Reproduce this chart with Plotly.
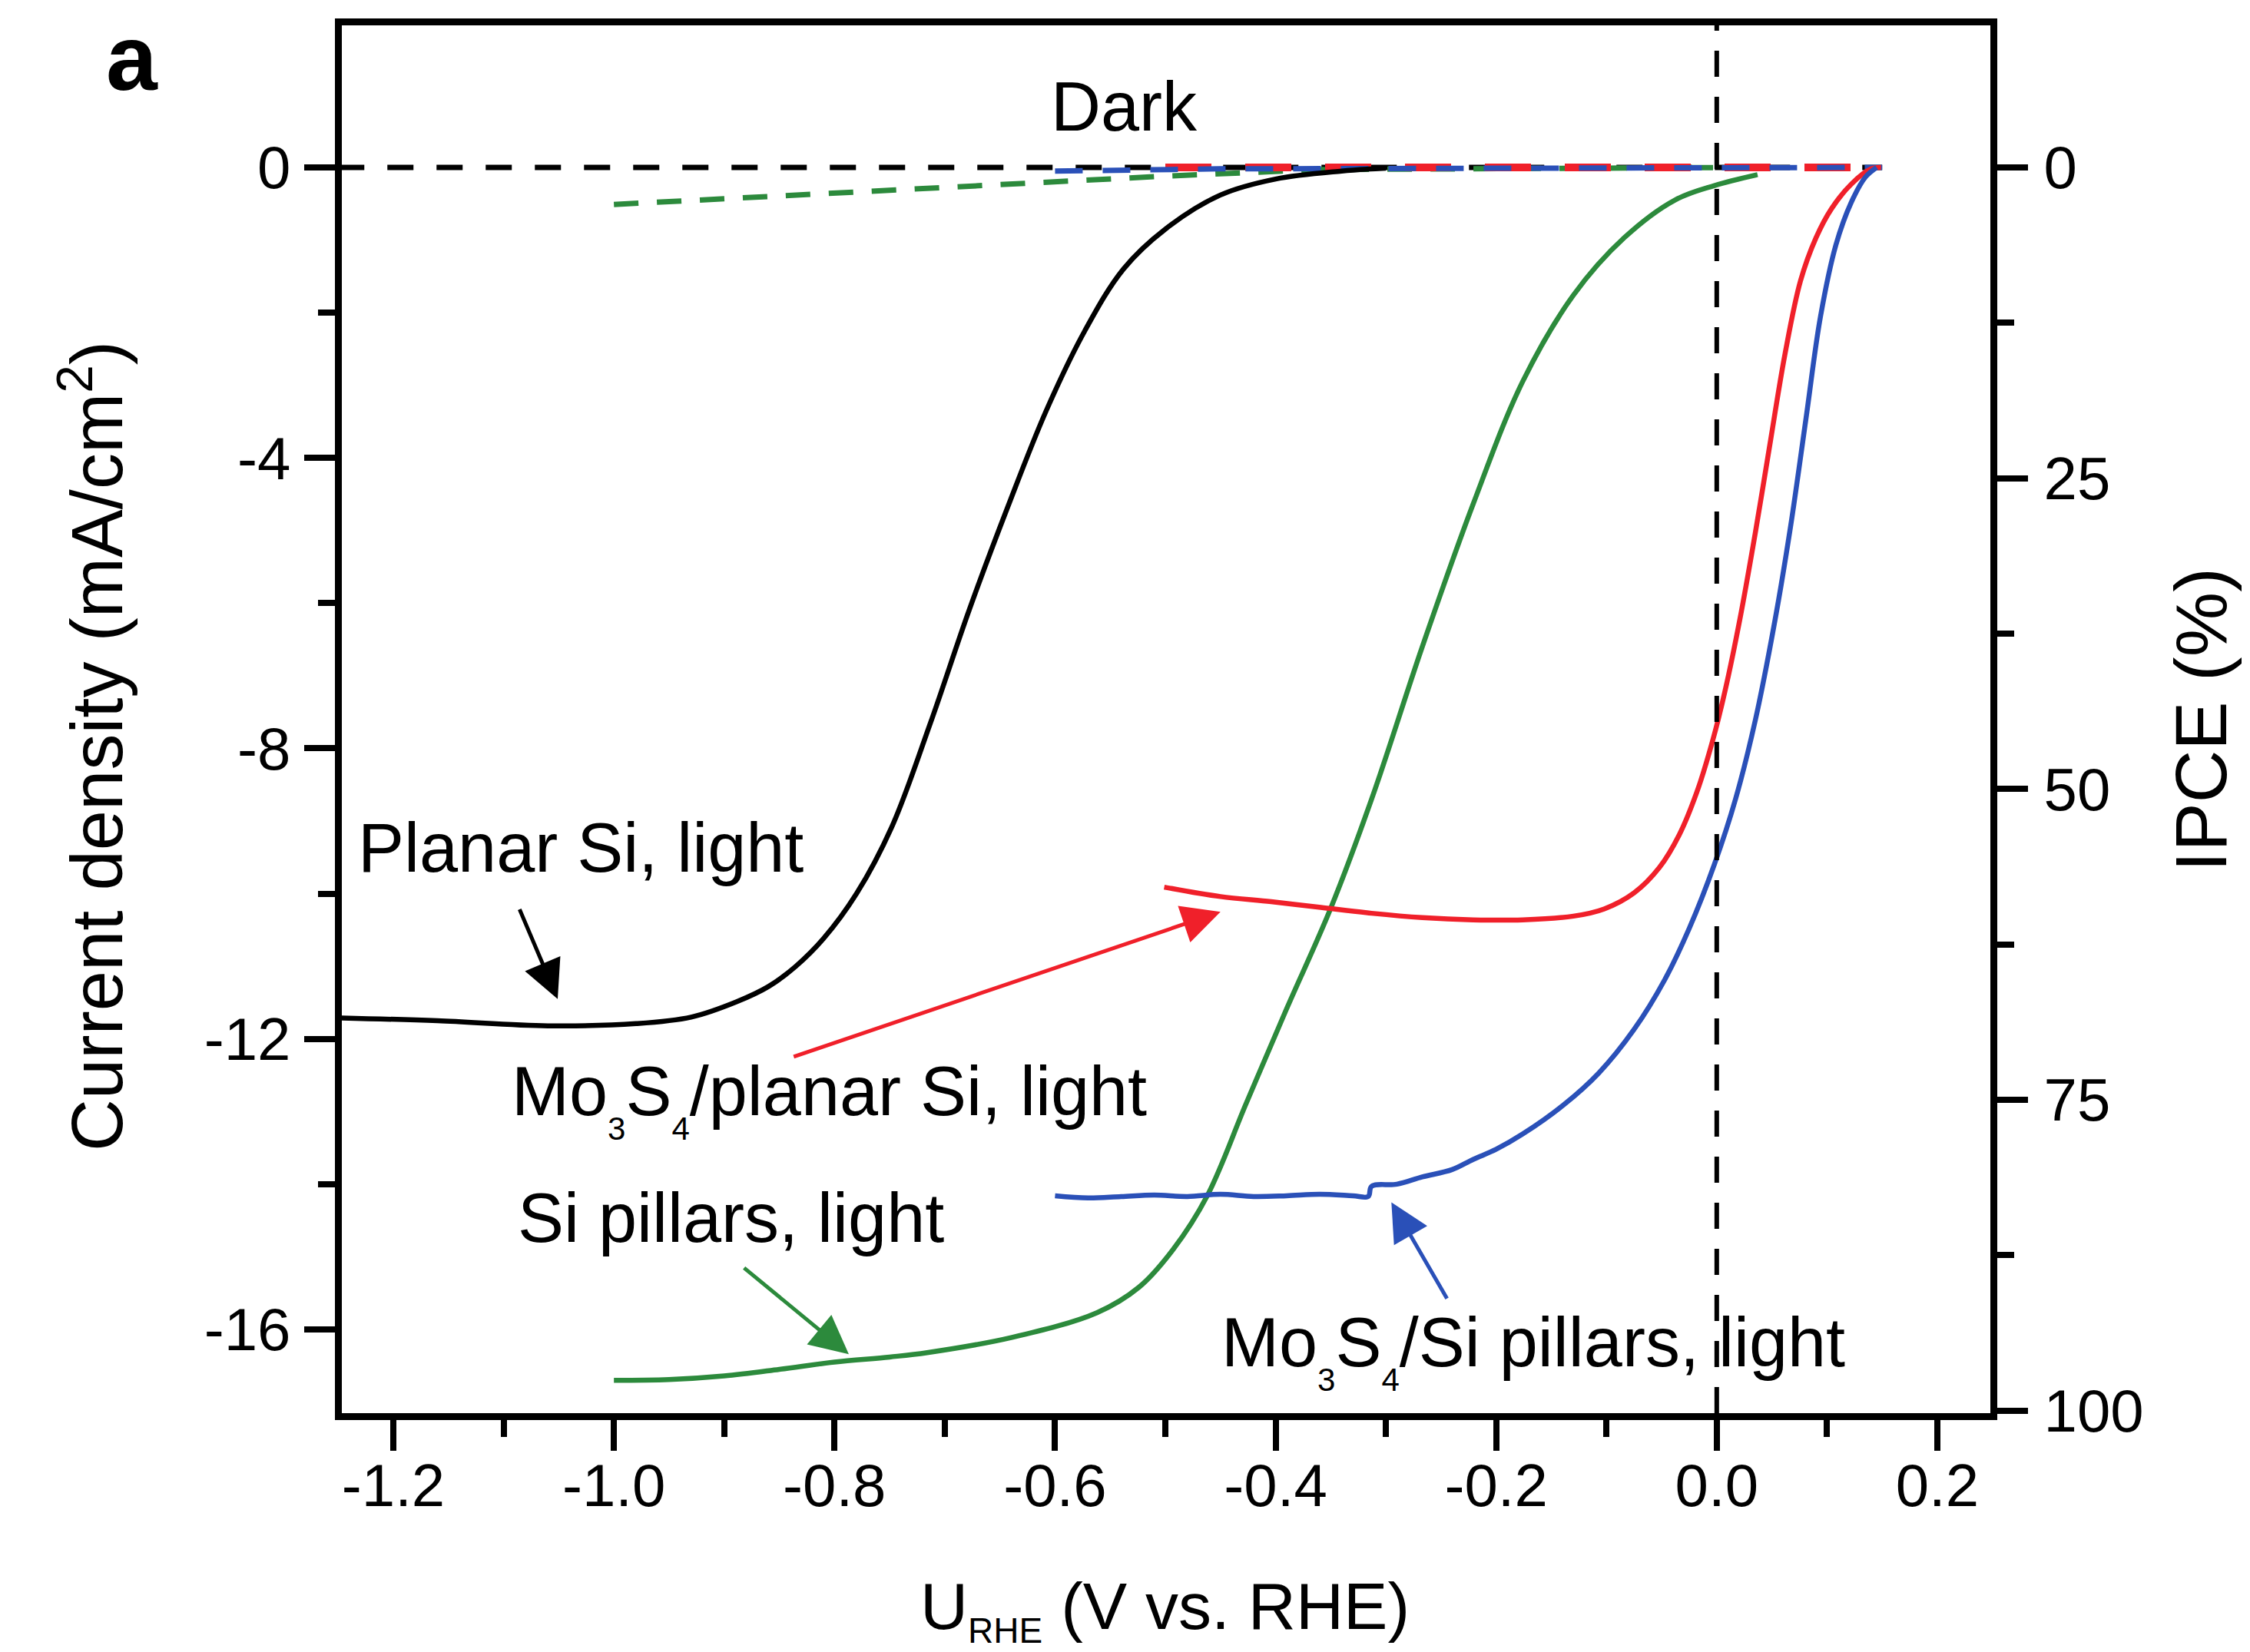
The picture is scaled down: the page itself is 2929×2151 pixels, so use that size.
import plotly.graph_objects as go

# ---------------- data ----------------
# Planar Si, light (black solid)
v_planar_light = [-1.25, -1.16, -1.06, -0.98, -0.93, -0.889, -0.86, -0.835, -0.81, -0.78, -0.748,
                  -0.713, -0.678, -0.643, -0.608, -0.573, -0.538, -0.50, -0.45, -0.40, -0.34, -0.30]
j_planar_light = [-11.71, -11.75, -11.82, -11.79, -11.70, -11.49, -11.28, -11.00, -10.62, -10.00, -9.08,
                  -7.65, -6.10, -4.68, -3.35, -2.25, -1.40, -0.85, -0.38, -0.16, -0.05, -0.01]

# Si pillars, light (green solid)
v_pillar_light = [-1.00, -0.95, -0.90, -0.85, -0.80, -0.75, -0.716, -0.639, -0.562, -0.524,
                  -0.493, -0.462, -0.427, -0.391, -0.350, -0.313, -0.267, -0.221, -0.176,
                  -0.130, -0.084, -0.038, -0.002, 0.037]
j_pillar_light = [-16.70, -16.69, -16.64, -16.55, -16.45, -16.38, -16.32, -16.11, -15.77, -15.42,
                  -14.90, -14.16, -12.90, -11.62, -10.20, -8.70, -6.60, -4.64, -2.95,
                  -1.76, -0.97, -0.45, -0.25, -0.10]

# Mo3S4/planar Si, light (red solid)
v_mo_planar_light = [-0.501, -0.45, -0.404, -0.359, -0.313, -0.267, -0.221, -0.176, -0.130, -0.102,
                     -0.075, -0.052, -0.034, -0.018, -0.004, 0.0075, 0.021, 0.035, 0.049, 0.062,
                     0.076, 0.090, 0.104, 0.122, 0.140, 0.149]
j_mo_planar_light = [-9.91, -10.04, -10.11, -10.19, -10.27, -10.33, -10.36, -10.36, -10.31, -10.21,
                     -9.99, -9.64, -9.19, -8.60, -7.91, -7.21, -6.22, -5.03, -3.74, -2.56,
                     -1.56, -0.97, -0.57, -0.23, -0.02, 0.0]

# Mo3S4/Si pillars, light (blue solid)
v_mo_pillar_light = [-0.60, -0.57, -0.54, -0.51, -0.48, -0.45, -0.42, -0.39, -0.36, -0.33, -0.316,
                     -0.313, -0.29, -0.267, -0.24, -0.221, -0.20, -0.176, -0.139, -0.107, -0.075,
                     -0.047, -0.025, -0.002, 0.017, 0.035, 0.053, 0.067, 0.081, 0.094, 0.108,
                     0.122, 0.135, 0.145]
j_mo_pillar_light = [-14.16, -14.19, -14.17, -14.15, -14.17, -14.14, -14.17, -14.16, -14.14, -14.16, -14.17,
                     -14.03, -14.00, -13.90, -13.80, -13.66, -13.52, -13.31, -12.91, -12.47, -11.87,
                     -11.18, -10.48, -9.59, -8.70, -7.61, -6.22, -4.94, -3.45, -2.06, -1.07,
                     -0.48, -0.13, 0.0]

# Dark curves (dashed)
v_planar_dark = [-1.25, 0.15]
j_planar_dark = [0.0, 0.0]
v_pillar_dark = [-1.00, -0.75, -0.50, -0.36, 0.03]
j_pillar_dark = [-0.51, -0.31, -0.12, -0.03, 0.0]
v_mo_planar_dark = [-0.50, 0.15]
j_mo_planar_dark = [0.0, 0.0]
v_mo_pillar_dark = [-0.60, -0.45, 0.15]
j_mo_pillar_dark = [-0.05, -0.02, 0.0]

# Axes ticks
x_ticks = [-1.2, -1.0, -0.8, -0.6, -0.4, -0.2, 0.0, 0.2]
x_tick_text = ["-1.2", "-1.0", "-0.8", "-0.6", "-0.4", "-0.2", "0.0", "0.2"]
x_minor = [-1.1, -0.9, -0.7, -0.5, -0.3, -0.1, 0.1]
y_ticks = [0, -4, -8, -12, -16]
y_tick_text = ["0", "-4", "-8", "-12", "-16"]
y_minor = [-2, -6, -10, -14]
ipce_ticks = [0, 25, 50, 75, 100]
ipce_tick_text = ["0", "25", "50", "75", "100"]
ipce_minor = [12.5, 37.5, 62.5, 87.5]

# ---------------- styling ----------------
BLACK = "#000000"
RED = "#F0202A"
BLUE = "#2A50B8"
GREEN = "#2C8A3C"
FONT = "Liberation Sans, Arial, sans-serif"

W, H = 2929, 2151
L, R, T, B = 437, 2583, 25, 1832   # plot area in pixels


def px_x(p):
    return (p - L) / (R - L)


def px_y(p):
    return (B - p) / (B - T)


fig = go.Figure()


def dark(v, j, color, dash, width):
    fig.add_trace(go.Scatter(x=v, y=j, mode="lines", showlegend=False, hoverinfo="skip",
                             line=dict(color=color, width=width, dash=dash)))


def light(v, j, color):
    fig.add_trace(go.Scatter(x=v, y=j, mode="lines", showlegend=False, hoverinfo="skip",
                             line=dict(color=color, width=6.5, shape="spline", smoothing=1.0)))


dark(v_planar_dark, j_planar_dark, BLACK, "34px,30px", 7)
dark(v_pillar_dark, j_pillar_dark, GREEN, "32px,24px", 7)
dark(v_mo_planar_dark, j_mo_planar_dark, RED, "60px,44px", 10)
dark(v_mo_pillar_dark, j_mo_pillar_dark, BLUE, "36px,26px", 7)

light(v_planar_light, j_planar_light, BLACK)
light(v_pillar_light, j_pillar_light, GREEN)
light(v_mo_planar_light, j_mo_planar_light, RED)
light(v_mo_pillar_light, j_mo_pillar_light, BLUE)

# register secondary (IPCE) axis
fig.add_trace(go.Scatter(x=[], y=[], yaxis="y2", showlegend=False, hoverinfo="skip"))

# vertical dashed line at 0 V
fig.add_shape(type="line", xref="x", yref="paper", x0=0, x1=0, y0=0, y1=1,
              line=dict(color=BLACK, width=6, dash="34px,26px"), layer="above")

tickfont = dict(family=FONT, size=78, color=BLACK)
axis_common = dict(showline=True, linewidth=9, linecolor=BLACK, ticks="outside",
                   ticklen=40, tickwidth=8, tickcolor=BLACK, showgrid=False,
                   zeroline=False, tickfont=tickfont)
minor_common = dict(ticklen=22, tickwidth=8, tickcolor=BLACK, ticks="outside")

fig.update_layout(
    width=W, height=H,
    margin=dict(l=L, r=W - R, t=T, b=H - B),
    paper_bgcolor="white", plot_bgcolor="white",
    xaxis=dict(range=[-1.2467, 0.2481], tickvals=x_ticks, ticktext=x_tick_text, mirror=True,
               minor=dict(tickvals=x_minor, **minor_common),
               ticklabelstandoff=-22, **axis_common),
    yaxis=dict(range=[-17.153, 1.956], tickvals=y_ticks, ticktext=y_tick_text, mirror=False,
               minor=dict(tickvals=y_minor, **minor_common),
               ticklabelstandoff=2, **axis_common),
    yaxis2=dict(range=[100.2, -11.43], tickvals=ipce_ticks, ticktext=ipce_tick_text,
                overlaying="y", side="right",
                minor=dict(tickvals=ipce_minor, **minor_common),
                ticklabelstandoff=5, **axis_common),
)


def label(text, x, y, size=90, xref="x", yref="y", angle=0):
    fig.add_annotation(text=text, x=x, y=y, xref=xref, yref=yref, showarrow=False,
                       textangle=angle, xanchor="center", yanchor="middle",
                       font=dict(family=FONT, size=size, color=BLACK))


def arrow(x_tail, y_tail, x_head, y_head, color):
    fig.add_annotation(text="", x=x_head, y=y_head, ax=x_tail, ay=y_tail,
                       xref="x", yref="y", axref="x", ayref="y", showarrow=True,
                       arrowhead=2, arrowsize=2.0, arrowwidth=5, arrowcolor=color)


SUB = '<sub><sub><span style="font-size:42px">%s</span></sub></sub>'

label("Dark", -0.537, 0.835)
label("Planar Si, light", -1.030, -9.375)
label("Mo" + SUB % "3" + "S" + SUB % "4" + "/planar Si, light", -0.8045, -12.84)
label("Si pillars, light", -0.894, -14.47)
label("Mo" + SUB % "3" + "S" + SUB % "4" + "/Si pillars, light", -0.1665, -16.30)

arrow(-1.086, -10.20, -1.051, -11.45, BLACK)
arrow(-0.838, -12.25, -0.450, -10.25, RED)
arrow(-0.883, -15.14, -0.787, -16.34, GREEN)
arrow(-0.244, -15.59, -0.295, -14.25, BLUE)

label("Current density (mA/cm<sup>2</sup>)", px_x(112), px_y(964), size=94,
      xref="paper", yref="paper", angle=-90)
label("IPCE (%)", px_x(2857), px_y(929), size=95, xref="paper", yref="paper", angle=-90)
label('U<sub><span style="font-size:46px">RHE</span></sub> (V vs. RHE)', px_x(1508), px_y(2088),
      size=86, xref="paper", yref="paper")
label("<b>a</b>", px_x(164), px_y(67), size=120, xref="paper", yref="paper")

fig.write_html("out.html")
